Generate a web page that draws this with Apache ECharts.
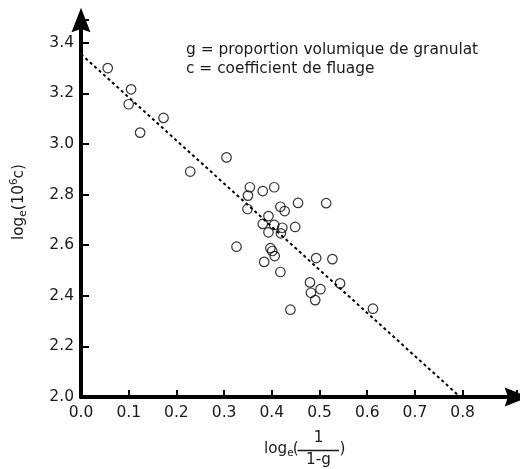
<!DOCTYPE html>
<html>
<head>
<meta charset="utf-8">
<script src="https://cdn.jsdelivr.net/npm/echarts@6/dist/echarts.min.js"></script>
<style>
html,body{margin:0;padding:0;background:#fff;}
#chart{width:520px;height:469px;}
</style>
</head>
<body>
<div id="chart"></div>
<script>
// Data
const pointsX = [0.056,0.105,0.100,0.124,0.173,0.229,0.305,0.354,0.350,0.349,0.381,0.405,0.418,0.427,0.455,0.514,0.393,0.381,0.405,0.422,0.449,0.393,0.419,0.397,0.401,0.406,0.384,0.493,0.527,0.418,0.480,0.543,0.482,0.502,0.491,0.439,0.612,0.326];
const pointsY = [3.300,3.216,3.157,3.045,3.103,2.891,2.947,2.829,2.796,2.743,2.814,2.829,2.752,2.735,2.767,2.766,2.715,2.684,2.680,2.669,2.672,2.651,2.647,2.588,2.577,2.557,2.534,2.549,2.545,2.494,2.453,2.449,2.412,2.426,2.383,2.345,2.349,2.594];
const fitX = [0, 0.795];
const fitY = [3.355, 2.0];
const xTicks = ['0.0','0.1','0.2','0.3','0.4','0.5','0.6','0.7','0.8'];
const yTicks = ['2.0','2.2','2.4','2.6','2.8','3.0','3.2','3.4'];
const noteLines = ['g = proportion volumique de granulat', 'c = coefficient de fluage'];

const FONT = 'DejaVu Sans';
const TXT = '#1a1a1a';
const NF = 15.2;   // axis-name font size
const SF = 10.5;   // sub/superscript font size
const arrowPath = 'path://M0,0 L10,26 L0,22.5 L-10,26 Z';

const chart = echarts.init(document.getElementById('chart'), null, {renderer: 'canvas'});

function fmt(list){
  return function(v){
    const s = v.toFixed(1);
    return (list.indexOf(s) >= 0 && Math.abs(parseFloat(s) - v) < 1e-6) ? s : '';
  };
}
function t(x, y, text, size, align){
  return {type: 'text', x: x, y: y, style: {text: text, fontFamily: FONT, fontSize: size, fill: TXT, verticalAlign: 'middle', align: align || 'left'}};
}

const option = {
  animation: false,
  backgroundColor: '#fff',
  grid: {left: 81, top: 20, width: 438, height: 377, containLabel: false},
  xAxis: {
    type: 'value', min: 0, max: 0.914, interval: 0.1,
    splitLine: {show: false},
    axisLine: {show: true, lineStyle: {color: '#000', width: 4}, symbol: ['none', arrowPath], symbolSize: [19, 26]},
    axisTick: {show: true, inside: true, length: 7, lineStyle: {color: '#000', width: 2}},
    axisLabel: {formatter: fmt(xTicks), color: TXT, fontFamily: FONT, fontSize: 15.5, margin: 8}
  },
  yAxis: {
    type: 'value', min: 2.0, max: 3.49, interval: 0.2,
    splitLine: {show: false},
    axisLine: {show: true, lineStyle: {color: '#000', width: 4}, symbol: ['none', arrowPath], symbolSize: [19, 26]},
    axisTick: {show: true, inside: true, length: 8, lineStyle: {color: '#000', width: 2}},
    axisLabel: {formatter: fmt(yTicks), color: TXT, fontFamily: FONT, fontSize: 15.5, margin: 7}
  },
  series: [
    {
      type: 'line',
      data: fitX.map((x, i) => [x, fitY[i]]),
      symbol: 'none',
      lineStyle: {color: '#000', width: 2, type: [3, 3]},
      z: 2
    },
    {
      type: 'scatter',
      data: pointsX.map((x, i) => [x, pointsY[i]]),
      symbol: 'circle',
      symbolSize: 9.5,
      itemStyle: {color: 'rgba(0,0,0,0)', borderColor: '#000', borderWidth: 1.2},
      z: 3
    }
  ],
  graphic: [
    {type: 'text', left: 186, top: 42, style: {text: noteLines[0], fontFamily: FONT, fontSize: 15.4, fill: TXT}},
    {type: 'text', left: 186, top: 61.5, style: {text: noteLines[1], fontFamily: FONT, fontSize: 15.4, fill: TXT}},
    // y axis name, rotated
    {
      type: 'group', x: 19.5, y: 240, rotation: Math.PI / 2,
      children: [
        t(0, 0, 'log', NF),
        t(23.2, 4.2, 'e', SF),
        t(29.7, 0, '(10', NF),
        t(54.9, -5.2, '6', SF),
        t(61.6, 0, 'c)', NF)
      ]
    },
    // x axis name with fraction
    t(264, 449, 'log', NF),
    t(287.2, 453.7, 'e', SF),
    t(292.8, 449, '(', NF),
    {type: 'line', shape: {x1: 297.5, y1: 450.5, x2: 339, y2: 450.5}, style: {stroke: TXT, lineWidth: 1.3}},
    t(318.5, 438.3, '1', NF, 'center'),
    t(318.5, 460.3, '1-g', NF, 'center'),
    t(339.5, 449, ')', NF)
  ]
};
chart.setOption(option);
</script>
</body>
</html>
